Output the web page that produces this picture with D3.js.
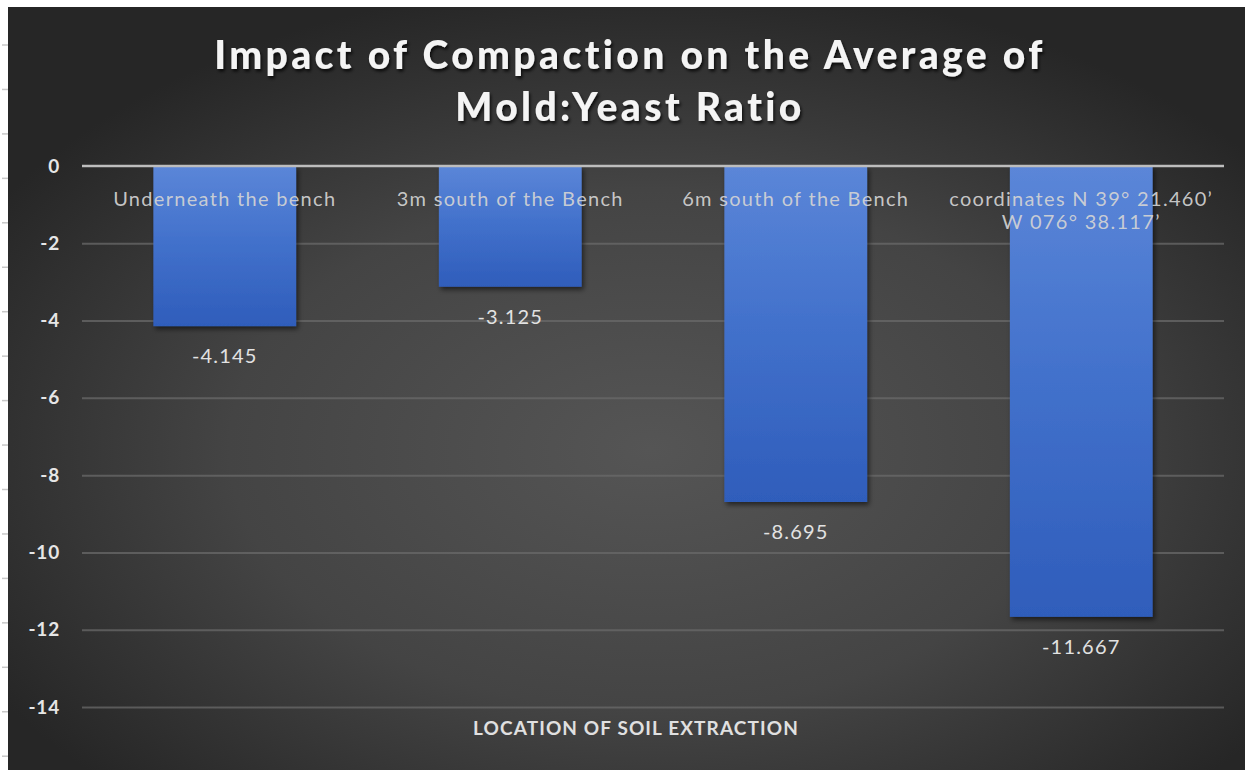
<!DOCTYPE html>
<html>
<head>
<meta charset="utf-8">
<script src="https://cdn.jsdelivr.net/npm/d3@7"></script>
<style>
  html, body { margin: 0; padding: 0; background: #ffffff; }
  svg { display: block; }
</style>
</head>
<body>
<div id="chart"></div>
<script>
// Chart data
const categories = [
  ["Underneath the bench"],
  ["3m south of the Bench"],
  ["6m south of the Bench"],
  ["coordinates N 39\u00B0 21.460\u2019", "W 076\u00B0 38.117\u2019"]
];
const values = [-4.145, -3.125, -8.695, -11.667];
const valueLabels = ["-4.145", "-3.125", "-8.695", "-11.667"];
const yTicks = [0, -2, -4, -6, -8, -10, -12, -14];
const titleLines = ["Impact of Compaction on the Average of", "Mold:Yeast Ratio"];
const xAxisTitle = "LOCATION OF SOIL EXTRACTION";

const W = 1245, H = 770;
const font = "Lato, 'Open Sans', sans-serif";

const svg = d3.select("#chart").append("svg")
  .attr("width", W).attr("height", H);

const defs = svg.append("defs");

// Dark radial backdrop
const bg = defs.append("radialGradient").attr("id", "bgGrad")
  .attr("cx", "52%").attr("cy", "58%").attr("r", "62%");
bg.append("stop").attr("offset", "0%").attr("stop-color", "#555555");
bg.append("stop").attr("offset", "55%").attr("stop-color", "#444444");
bg.append("stop").attr("offset", "100%").attr("stop-color", "#262626");

// Bar fill: lighter at top, deeper blue toward the bottom
const barGrad = defs.append("linearGradient").attr("id", "barGrad")
  .attr("x1", 0).attr("y1", 0).attr("x2", 0).attr("y2", 1);
barGrad.append("stop").attr("offset", "0%").attr("stop-color", "#5b86d8");
barGrad.append("stop").attr("offset", "45%").attr("stop-color", "#4372cc");
barGrad.append("stop").attr("offset", "100%").attr("stop-color", "#2f5dbb");

const shadow = defs.append("filter").attr("id", "barShadow")
  .attr("x", "-10%").attr("y", "-10%").attr("width", "130%").attr("height", "130%");
shadow.append("feDropShadow").attr("dx", 2).attr("dy", 3).attr("stdDeviation", 2.5)
  .attr("flood-color", "#000").attr("flood-opacity", 0.55);

const tShadow = defs.append("filter").attr("id", "textShadow")
  .attr("x", "-5%").attr("y", "-20%").attr("width", "110%").attr("height", "150%");
tShadow.append("feDropShadow").attr("dx", 1.5).attr("dy", 2.5).attr("stdDeviation", 1.5)
  .attr("flood-color", "#000").attr("flood-opacity", 0.75);

// Page frame: white strip on the top and left, chart area beyond it
svg.append("rect").attr("x", 0).attr("y", 0).attr("width", W).attr("height", H).attr("fill", "#ffffff");
const areaX = 8, areaY = 7;
svg.append("rect").attr("x", areaX).attr("y", areaY)
  .attr("width", W - areaX).attr("height", H - areaY).attr("fill", "url(#bgGrad)");

// Small ruler marks on the left strip
const rulerMarks = d3.range(17);
svg.append("g").selectAll("line").data(rulerMarks).join("line")
  .attr("x1", 2).attr("x2", 8)
  .attr("y1", d => 45 + d * 44.45).attr("y2", d => 45 + d * 44.45)
  .attr("stroke", "#c8c8c8").attr("stroke-width", 1.5);

// Scales
const plotLeft = 82, plotRight = 1224;
const x = d3.scaleBand().domain(d3.range(values.length))
  .range([plotLeft, plotRight]).paddingInner(0.5).paddingOuter(0.25);
const y = d3.scaleLinear().domain([-14, 0]).range([707, 166]);

// Horizontal gridlines
const grid = svg.append("g")
  .call(d3.axisLeft(y).tickValues(yTicks.filter(d => d !== 0)).tickSize(-(plotRight - plotLeft)).tickFormat(""))
  .attr("transform", `translate(${plotLeft},0)`);
grid.select(".domain").remove();
grid.selectAll(".tick line").attr("stroke", "#6a6a6a").attr("stroke-width", 2).attr("stroke-opacity", 0.75);

// Y tick labels
const yAxis = svg.append("g").attr("transform", `translate(${plotLeft},0)`)
  .call(d3.axisLeft(y).tickValues(yTicks).tickSize(0).tickPadding(22).tickFormat(d => d3.format("d")(d).replace("\u2212", "-")));
yAxis.select(".domain").remove();
yAxis.selectAll("text")
  .attr("fill", "#e6e6e6").attr("font-family", font).attr("font-size", 19).attr("font-weight", 700)
  .attr("letter-spacing", 0.8);

// Bars
svg.append("g").selectAll("rect").data(values).join("rect")
  .attr("x", (d, i) => x(i))
  .attr("y", d => y(Math.max(0, d)))
  .attr("width", x.bandwidth())
  .attr("height", d => Math.abs(y(d) - y(0)))
  .attr("fill", "url(#barGrad)")
  .attr("filter", "url(#barShadow)");

// Zero line drawn above the bars
svg.append("line")
  .attr("x1", plotLeft).attr("x2", plotRight)
  .attr("y1", y(0)).attr("y2", y(0))
  .attr("stroke", "#bdbdbd").attr("stroke-width", 2.5);

// Category labels near the zero line
const catG = svg.append("g");
categories.forEach((lines, i) => {
  const t = catG.append("text")
    .attr("x", x(i) + x.bandwidth() / 2)
    .attr("y", 206)
    .attr("text-anchor", "middle")
    .attr("fill", "#d4d4d4").attr("fill-opacity", 0.92)
    .attr("font-family", font).attr("font-size", 20)
    .attr("letter-spacing", 1.3);
  lines.forEach((ln, j) => {
    t.append("tspan").attr("x", x(i) + x.bandwidth() / 2)
      .attr("dy", j === 0 ? 0 : 23).text(ln);
  });
});

// Value labels under each bar
svg.append("g").selectAll("text").data(values).join("text")
  .attr("x", (d, i) => x(i) + x.bandwidth() / 2)
  .attr("y", d => y(d) + 37)
  .attr("text-anchor", "middle")
  .attr("fill", "#e2e2e2").attr("font-family", font).attr("font-size", 20)
  .attr("letter-spacing", 1.2)
  .text((d, i) => valueLabels[i]);

// Title
const title = svg.append("text")
  .attr("x", 630).attr("y", 69)
  .attr("text-anchor", "middle")
  .attr("fill", "#f4f4f4").attr("font-family", font)
  .attr("font-size", 39).attr("font-weight", 900)
  .attr("letter-spacing", 3.4)
  .attr("filter", "url(#textShadow)");
titleLines.forEach((ln, j) => {
  title.append("tspan").attr("x", 630).attr("dy", j === 0 ? 0 : 52).text(ln);
});

// X axis title
svg.append("text")
  .attr("x", 636).attr("y", 735)
  .attr("text-anchor", "middle")
  .attr("fill", "#e0e0e0").attr("font-family", font)
  .attr("font-size", 19).attr("font-weight", 700)
  .attr("letter-spacing", 1.1)
  .text(xAxisTitle);
</script>
</body>
</html>
